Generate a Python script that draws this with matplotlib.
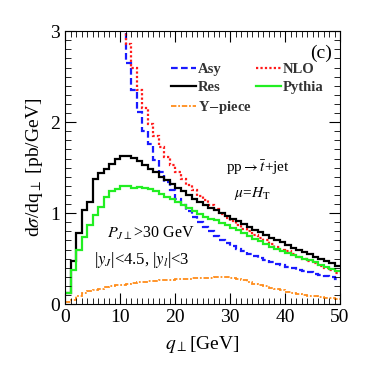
import numpy as np
import matplotlib
matplotlib.use("Agg")
import matplotlib.pyplot as plt
from matplotlib.ticker import MultipleLocator
from matplotlib.lines import Line2D

plt.rcParams['font.family'] = ['Liberation Serif', 'DejaVu Serif']
plt.rcParams['mathtext.fontset'] = 'stix'

# 1 GeV bins
res = [0.12, 0.47, 0.78, 1.03, 1.12, 1.37, 1.44, 1.49, 1.54, 1.59,
       1.63, 1.63, 1.61, 1.57, 1.53, 1.49, 1.45, 1.40, 1.36, 1.32,
       1.28, 1.24, 1.20, 1.16, 1.12, 1.09, 1.06, 1.03, 1.00, 0.97,
       0.94, 0.91, 0.88, 0.85, 0.82, 0.79, 0.76, 0.73, 0.70, 0.68,
       0.65, 0.62, 0.60, 0.57, 0.55, 0.52, 0.50, 0.47, 0.45, 0.42]
pythia = [0.12, 0.37, 0.59, 0.74, 0.87, 0.98, 1.07, 1.18, 1.245, 1.26,
          1.30, 1.30, 1.28, 1.29, 1.28, 1.26, 1.24, 1.21, 1.18, 1.15,
          1.12, 1.09, 1.06, 1.02, 0.99, 0.96, 0.94, 0.92, 0.89, 0.87,
          0.84, 0.81, 0.78, 0.75, 0.72, 0.69, 0.66, 0.63, 0.61, 0.58,
          0.56, 0.54, 0.52, 0.50, 0.48, 0.46, 0.43, 0.41, 0.39, 0.36]
# Asy starts at q=9
asy_start = 9
asy = [3.4, 3.02, 2.65, 2.35, 2.11, 1.90, 1.76, 1.58, 1.45, 1.34,
       1.25, 1.16, 1.09, 1.02, 0.96, 0.90, 0.85, 0.80, 0.75, 0.71,
       0.67, 0.64, 0.61, 0.58, 0.555, 0.53, 0.505, 0.485, 0.465, 0.445,
       0.425, 0.41, 0.395, 0.38, 0.365, 0.35, 0.335, 0.32, 0.305, 0.295,
       0.28]
# NLO starts at q=10
nlo_start = 10
nlo = [3.3, 2.86, 2.59, 2.35, 2.15, 1.98, 1.85, 1.73, 1.62, 1.53,
       1.45, 1.38, 1.31, 1.25, 1.19, 1.14, 1.09, 1.04, 0.99, 0.95,
       0.91, 0.87, 0.83, 0.80, 0.76, 0.73, 0.70, 0.66, 0.63, 0.60,
       0.58, 0.55, 0.52, 0.50, 0.47, 0.45, 0.42, 0.40, 0.37, 0.34]
ypiece = [0.02, 0.05, 0.09, 0.12, 0.14, 0.16, 0.17, 0.185, 0.195, 0.205,
          0.215, 0.225, 0.23, 0.24, 0.245, 0.25, 0.255, 0.26, 0.265, 0.27,
          0.273, 0.276, 0.28, 0.283, 0.285, 0.288, 0.29, 0.293, 0.295, 0.297,
          0.29, 0.275, 0.26, 0.24, 0.225, 0.21, 0.195, 0.18, 0.165, 0.15,
          0.135, 0.122, 0.11, 0.10, 0.09, 0.085, 0.078, 0.072, 0.067, 0.062]

fig = plt.figure(figsize=(3.66, 3.66), dpi=100)
ax = fig.add_axes([0.178, 0.169, 0.751, 0.746])

def edges(start, n):
    return np.arange(start, start + n + 1, 1.0)

lw = 1.6
ax.stairs(asy, edges(asy_start, len(asy)), baseline=None, color='#1a1aff', lw=lw, ls=(0, (3, 1.5)))
ax.stairs(nlo, edges(nlo_start, len(nlo)), baseline=None, color='#ff1a1a', lw=lw, ls=(0, (1, 1)))
ax.stairs(res, edges(0, len(res)), baseline=None, color='black', lw=lw)
ax.stairs(pythia, edges(0, len(pythia)), baseline=None, color='#22ee22', lw=lw)
ax.stairs(ypiece, edges(0, len(ypiece)), baseline=None, color='#ff8c1a', lw=1.3, ls=(0, (3, 1, 1, 1)))

L = lambda c, ls, w=lw: Line2D([], [], color=c, ls=ls, lw=w)
handles = [L('#1a1aff', (0, (3, 1.5))), L('black', '-'), L('#ff8c1a', (0, (3, 1, 1, 1)), 1.3),
           L('#ff1a1a', (0, (1, 1))), L('#22ee22', '-')]
labels = ['Asy', 'Res', 'Y$-$piece', 'NLO', 'Pythia']
leg = ax.legend(handles, labels, ncol=2, loc='upper left', bbox_to_anchor=(0.385, 0.885),
                frameon=False, prop={'weight': 'bold', 'size': 10.5},
                handlelength=1.7, handletextpad=0.15, columnspacing=0.3,
                labelspacing=0.35, borderpad=0, borderaxespad=0)
for t in leg.get_texts():
    t.set_color('#333333')

ax.set_xlim(0, 50)
ax.set_ylim(0, 3)
ax.xaxis.set_major_locator(MultipleLocator(10))
ax.xaxis.set_minor_locator(MultipleLocator(1))
ax.yaxis.set_major_locator(MultipleLocator(1))
ax.yaxis.set_minor_locator(MultipleLocator(0.1))
ax.tick_params(which='both', direction='in', top=True, right=True, labelsize=14)
ax.tick_params(which='major', length=8, width=0.8)
ax.tick_params(which='minor', length=4, width=0.6)
for s in ax.spines.values():
    s.set_linewidth(0.8)

ax.set_xlabel(r'$q_{\perp}$[GeV]', fontsize=14, labelpad=6)
ax.set_ylabel(r'd$\sigma$/dq$_{\perp}$ [pb/GeV]', fontsize=14, labelpad=4)

ax.text(0.97, 0.95, '(c)', transform=ax.transAxes, fontsize=14, ha='right', va='top')
ax.text(0.70, 0.50, r'pp$\rightarrow\bar{t}$+jet', transform=ax.transAxes, fontsize=11, ha='center', va='center')
ax.text(0.68, 0.405, r'$\mu$=$H_{\rm T}$', transform=ax.transAxes, fontsize=11, ha='center', va='center')
ax.text(0.31, 0.26, r'$P_{J\perp}$>30 GeV', transform=ax.transAxes, fontsize=11.5, ha='center', va='center')
ax.text(0.28, 0.16, r'|$y_J$|<4.5, |$y_l$|<3', transform=ax.transAxes, fontsize=12, ha='center', va='center')

fig.savefig('out.png', dpi=100)
